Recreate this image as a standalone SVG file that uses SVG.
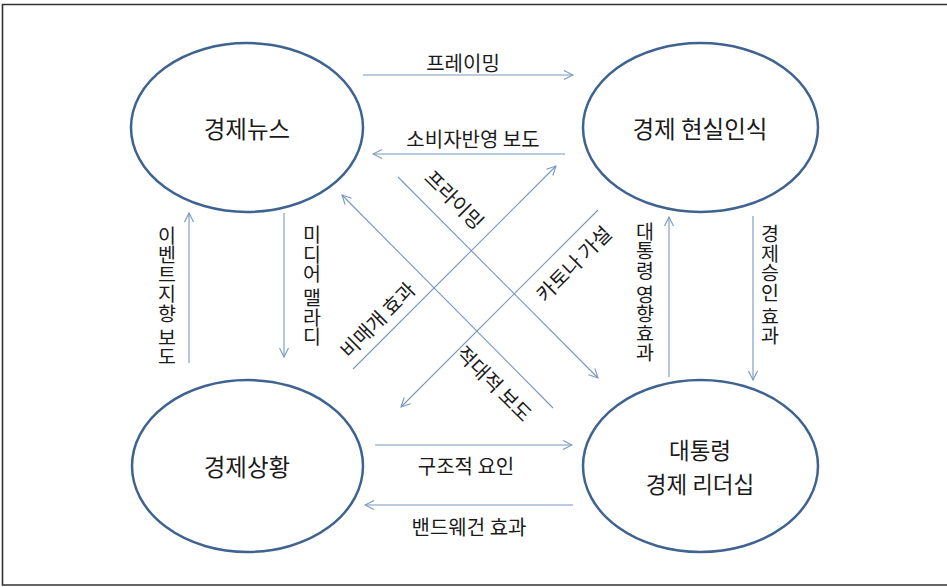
<svg xmlns="http://www.w3.org/2000/svg" width="947" height="587" viewBox="0 0 947 587">
<defs>
<style>
.node{fill:#fff;stroke:#3f6391;stroke-width:2.5}
.nl{font-family:"Noto Sans CJK KR","Noto Sans",sans-serif;font-size:23.5px;fill:#1a1a1a;text-anchor:middle;dominant-baseline:central}
.lbl{font-family:"Noto Sans CJK KR","Noto Sans",sans-serif;font-size:20px;fill:#1a1a1a;text-anchor:middle;dominant-baseline:central}
.vl{font-family:"Noto Sans CJK KR","Noto Sans",sans-serif;font-size:19.5px;fill:#1a1a1a;text-anchor:middle;writing-mode:vertical-rl}
.c{fill:none;stroke:#7697c2;stroke-width:1.1;marker-end:url(#ah)}
.frame{fill:none;stroke:#333;stroke-width:1.6}
</style>
<marker id="ah" markerUnits="userSpaceOnUse" viewBox="-11 -6 12 12" refX="0" refY="0" markerWidth="12" markerHeight="12" orient="auto">
<path d="M-9,-4.5 L0,0 L-9,4.5" fill="none" stroke="#7697c2" stroke-width="1.1"/>
</marker>
</defs>
<path class="frame" d="M948,4.5 H2.5 V585 H948"/>
<g id="news"><ellipse class="node" cx="247" cy="127.5" rx="116" ry="84.5"/><text class="nl" x="247" y="128">경제뉴스</text></g>
<g id="perception"><ellipse class="node" cx="700.5" cy="127.5" rx="117.5" ry="84.5"/><text class="nl" x="700" y="128">경제 현실인식</text></g>
<g id="situation"><ellipse class="node" cx="247.5" cy="466" rx="115.5" ry="86"/><text class="nl" x="247" y="466">경제상황</text></g>
<g id="leadership"><ellipse class="node" cx="700.5" cy="466" rx="117.5" ry="86"/><text class="nl" style="font-size:22.5px"><tspan x="700" y="449">대통령</tspan><tspan x="700" y="482.5">경제 리더십</tspan></text></g>
<g id="connectors">
<line class="c" x1="363" y1="75" x2="573" y2="75"/>
<line class="c" x1="565" y1="154" x2="373" y2="154"/>
<line class="c" x1="375" y1="445" x2="572" y2="445"/>
<line class="c" x1="573" y1="505" x2="365" y2="505"/>
<line class="c" x1="189" y1="363" x2="189" y2="213"/>
<line class="c" x1="284" y1="213" x2="284" y2="357"/>
<line class="c" x1="669" y1="377" x2="669" y2="217"/>
<line class="c" x1="753" y1="216" x2="753" y2="380"/>
<line class="c" x1="398" y1="177" x2="598" y2="378"/>
<line class="c" x1="553" y1="408" x2="342" y2="195"/>
<line class="c" x1="353" y1="369" x2="556" y2="166"/>
<line class="c" x1="598" y1="210" x2="401" y2="407"/>
</g>
<g id="labels">
<text class="lbl" x="463" y="62">프레이밍</text>
<text class="lbl" x="473" y="138">소비자반영 보도</text>
<text class="lbl" x="466" y="465">구조적 요인</text>
<text class="lbl" x="469" y="526">밴드웨건 효과</text>
<text class="lbl" x="455" y="199" transform="rotate(45 455 199)">프라이밍</text>
<text class="lbl" x="573" y="263" transform="rotate(-45 573 263)">카토나 가설</text>
<text class="lbl" x="377" y="319" transform="rotate(-45 377 319)">비매개 효과</text>
<text class="lbl" x="495" y="383" transform="rotate(45 495 383)">적대적 보도</text>
<text class="vl" x="167" y="296">이벤트지향 보도</text>
<text class="vl" x="312" y="286">미디어 맬라디</text>
<text class="vl" x="645" y="292">대통령 영향효과</text>
<text class="vl" x="770" y="285">경제승인 효과</text>
</g>
</svg>
